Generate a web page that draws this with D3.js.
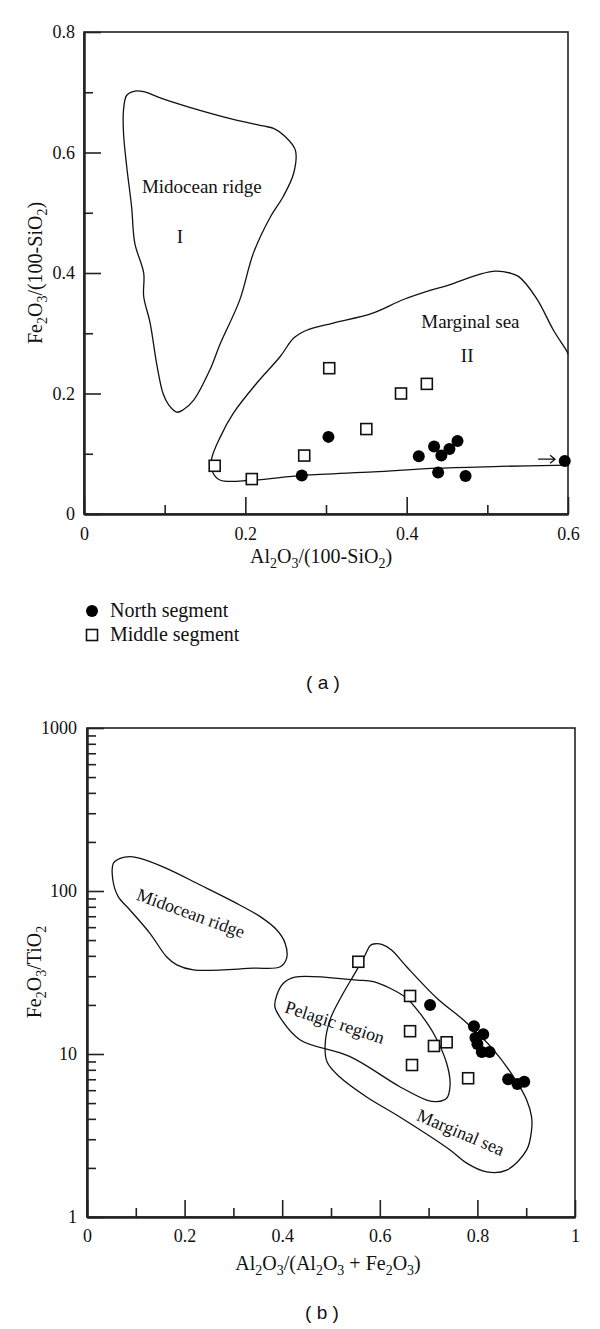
<!DOCTYPE html>
<html>
<head>
<meta charset="utf-8">
<title>Fe2O3 discrimination diagrams</title>
<style>
body { margin: 0; background: #fff; }
svg text { font-family: "Liberation Serif", "Times New Roman", serif; fill: #111; }
.cap { font-family: "Liberation Sans", Arial, sans-serif; }
.field { fill: none; stroke: #111; stroke-width: 1.3; stroke-linejoin: round; }
.frame { fill: none; stroke: #222; stroke-width: 1.6; }
.axis path.domain { stroke: #222; stroke-width: 2; }
.axis line { stroke: #222; stroke-width: 1.6; }
.axis text { font-size: 18px; font-family: "Liberation Serif", "Times New Roman", serif; fill: #111; }
</style>
</head>
<body>
<svg width="600" height="1329"></svg>
<script src="https://d3js.org/d3.v7.min.js"></script>
<script>

// ---------- panel (a): Al2O3/(100-SiO2) vs Fe2O3/(100-SiO2) ----------
var northA = [[0.270,0.064],[0.303,0.128],[0.415,0.096],[0.434,0.112],[0.443,0.097],
              [0.453,0.108],[0.463,0.121],[0.439,0.069],[0.473,0.063],[0.596,0.088]];
var middleA = [[0.162,0.080],[0.208,0.058],[0.273,0.097],[0.304,0.242],[0.350,0.141],
               [0.393,0.200],[0.425,0.216]];
// field I, midocean ridge (closed)
var ridgeA = [[0.049,0.671],[0.053,0.695],[0.063,0.702],[0.074,0.701],[0.098,0.689],[0.131,0.675],
              [0.185,0.655],[0.222,0.644],[0.235,0.640],[0.249,0.627],[0.262,0.604],[0.260,0.566],
              [0.247,0.527],[0.231,0.493],[0.210,0.433],[0.193,0.355],[0.169,0.283],[0.156,0.239],
              [0.136,0.189],[0.123,0.173],[0.115,0.169],[0.105,0.181],[0.098,0.200],[0.090,0.250],
              [0.082,0.317],[0.074,0.361],[0.074,0.400],[0.063,0.449],[0.059,0.510],[0.053,0.576],
              [0.049,0.632]];
// field II, marginal sea (open on the right frame)
var marginalA = [[0.600,0.265],[0.599,0.269],[0.582,0.305],[0.561,0.358],[0.539,0.394],[0.528,0.400],
                 [0.510,0.403],[0.491,0.398],[0.452,0.380],[0.431,0.372],[0.396,0.356],[0.357,0.333],
                 [0.309,0.317],[0.276,0.305],[0.260,0.292],[0.243,0.261],[0.214,0.217],[0.185,0.167],
                 [0.169,0.128],[0.158,0.090],[0.160,0.068],[0.169,0.056],[0.208,0.056],[0.271,0.064],
                 [0.359,0.070],[0.439,0.076],[0.516,0.079],[0.600,0.081]];
var arrowA = [[0.563,0.091],[0.584,0.091]];
var labelsA = [["Midocean ridge",0.146,0.533],["I",0.119,0.450],["Marginal sea",0.479,0.309],["II",0.475,0.253]];
var xTicksA = [0, 0.2, 0.4, 0.6];
var xMinorA = [0.1, 0.3, 0.5];
var yTicksA = [0, 0.2, 0.4, 0.6, 0.8];
var yMinorA = [0.1, 0.3, 0.5, 0.7];

// ---------- panel (b): Al2O3/(Al2O3+Fe2O3) vs Fe2O3/TiO2 ----------
var northB = [[0.703,20.0],[0.793,14.8],[0.812,13.2],[0.796,12.6],[0.800,11.5],[0.809,10.3],
              [0.825,10.3],[0.863,7.0],[0.882,6.55],[0.896,6.75]];
var middleB = [[0.556,36.8],[0.662,22.7],[0.662,13.8],[0.711,11.2],[0.737,11.8],[0.666,8.56],[0.781,7.1]];
var ridgeB = [[0.054,147.9],[0.068,158.7],[0.088,162.3],[0.109,158.7],[0.163,137.8],[0.232,108.9],
              [0.300,86.0],[0.355,69.6],[0.389,57.6],[0.406,47.8],[0.409,38.6],[0.396,34.3],
              [0.341,33.6],[0.218,32.8],[0.184,35.2],[0.163,39.5],[0.129,55.0],[0.088,76.5],
              [0.064,92.3],[0.053,116.8]];
var pelagicB = [[0.426,29.6],[0.553,28.4],[0.587,27.8],[0.621,25.3],[0.655,22.0],[0.682,17.8],
                [0.710,13.4],[0.737,8.77],[0.744,6.45],[0.737,5.35],[0.717,5.10],[0.696,5.22],
                [0.641,6.30],[0.539,9.63],[0.437,12.2],[0.399,16.2],[0.385,19.5],[0.389,23.0],
                [0.402,27.1]];
var marginalB = [[0.580,46.2],[0.587,47.3],[0.604,47.1],[0.624,43.5],[0.655,34.3],[0.717,22.0],
                 [0.771,16.2],[0.833,10.6],[0.881,6.73],[0.901,5.22],[0.911,4.11],[0.911,3.42],
                 [0.901,2.58],[0.860,1.94],[0.819,1.89],[0.778,2.14],[0.744,2.58],[0.641,4.11],
                 [0.573,5.45],[0.518,7.22],[0.492,8.93],[0.488,11.4],[0.498,16.2],[0.523,23.0],
                 [0.553,32.8],[0.570,40.5]];
var labelsB = [["Midocean ridge",0.213,73.3,20],["Pelagic region",0.508,15.7,18],["Marginal sea",0.766,3.32,23]];
var xTicksB = [0, 0.2, 0.4, 0.6, 0.8, 1];
var xMinorB = [0.1, 0.3, 0.5, 0.7, 0.9];
var yTicksB = [1, 10, 100, 1000];
var yMinorB = [2,3,4,5,6,7,8,9,20,30,40,50,60,70,80,90,200,300,400,500,600,700,800,900];

var svg = d3.select("svg");

function scatter(g, x, y, north, middle) {
  g.selectAll("rect.mid").data(middle).enter().append("rect")
    .attr("class", "mid")
    .attr("x", function(d) { return x(d[0]) - 5.5; })
    .attr("y", function(d) { return y(d[1]) - 5.5; })
    .attr("width", 11).attr("height", 11)
    .attr("fill", "#fff").attr("stroke", "#111").attr("stroke-width", 1.6);
  g.selectAll("circle.north").data(north).enter().append("circle")
    .attr("class", "north")
    .attr("cx", function(d) { return x(d[0]); })
    .attr("cy", function(d) { return y(d[1]); })
    .attr("r", 6).attr("fill", "#000");
}

function frameAndAxes(x, y, xt, xm, yt, ym, xfmt, yfmt, ypad, xpad) {
  var x0 = x.range()[0], x1 = x.range()[1], y0 = y.range()[0], y1 = y.range()[1];
  svg.append("rect").attr("class", "frame")
    .attr("x", x0).attr("y", y1).attr("width", x1 - x0).attr("height", y0 - y1);

  svg.append("g").attr("class", "axis").attr("transform", "translate(" + x0 + ",0)")
    .call(d3.axisLeft(y).tickValues(yt).tickSize(-17).tickSizeOuter(0).tickPadding(ypad).tickFormat(yfmt));
  svg.append("g").attr("class", "axis").attr("transform", "translate(" + x0 + ",0)")
    .call(d3.axisLeft(y).tickValues(ym).tickSize(-9).tickSizeOuter(0).tickFormat(""));

  svg.append("g").attr("class", "axis").attr("transform", "translate(0," + y0 + ")")
    .call(d3.axisBottom(x).tickValues(xt).tickSize(-17).tickSizeOuter(0).tickPadding(xpad).tickFormat(xfmt));
  svg.append("g").attr("class", "axis").attr("transform", "translate(0," + y0 + ")")
    .call(d3.axisBottom(x).tickValues(xm).tickSize(-9).tickSizeOuter(0).tickFormat(""));
}

// axis title with subscripts: parts = [[string, isSub], ...]
function axisTitle(parts, tx, ty, rot) {
  var t = svg.append("text")
    .attr("transform", "translate(" + tx + "," + ty + ")" + (rot ? " rotate(-90)" : ""))
    .attr("text-anchor", "middle").attr("font-size", 20);
  var prevSub = false;
  parts.forEach(function(p) {
    var s = t.append("tspan").text(p[0]);
    if (p[1]) s.attr("font-size", 14);
    if (p[1] && !prevSub) s.attr("dy", 5);
    if (!p[1] && prevSub) s.attr("dy", -5);
    prevSub = p[1];
  });
}

var fmt = function(d) { return d === 0 ? "0" : d3.format(".1f")(d); };

// ---------- panel (a) ----------
var xA = d3.scaleLinear().domain([0, 0.6]).range([84, 568]);
var yA = d3.scaleLinear().domain([0, 0.8]).range([514, 32]);

frameAndAxes(xA, yA, xTicksA, xMinorA, yTicksA, yMinorA, fmt, fmt, 9, 13);

var lineA = d3.line().x(function(d) { return xA(d[0]); }).y(function(d) { return yA(d[1]); });
svg.append("path").attr("class", "field").attr("d", lineA.curve(d3.curveCatmullRomClosed.alpha(0.5))(ridgeA));
svg.append("path").attr("class", "field").attr("d", lineA.curve(d3.curveCatmullRom.alpha(0.5))(marginalA));

// small arrow pointing at the outlying sample
var ax1 = xA(arrowA[0][0]), ax2 = xA(arrowA[1][0]), ay = yA(arrowA[0][1]);
svg.append("path").attr("class", "field").attr("stroke-width", 1.1)
  .attr("d", "M" + ax1 + "," + ay + "H" + ax2 + "M" + (ax2 - 5) + "," + (ay - 4) + "L" + ax2 + "," + ay + "L" + (ax2 - 5) + "," + (ay + 4));

svg.selectAll("text.labA").data(labelsA).enter().append("text")
  .attr("class", "labA")
  .attr("x", function(d) { return xA(d[1]); })
  .attr("y", function(d) { return yA(d[2]); })
  .attr("text-anchor", "middle").attr("font-size", 19)
  .text(function(d) { return d[0]; });

scatter(svg.append("g"), xA, yA, northA, middleA);

axisTitle([["Al",0],["2",1],["O",0],["3",1],["/(100-SiO",0],["2",1],[")",0]], 321, 563, false);
axisTitle([["Fe",0],["2",1],["O",0],["3",1],["/(100-SiO",0],["2",1],[")",0]], 42, 273, true);

// legend
var leg = svg.append("g");
leg.append("circle").attr("cx", 92).attr("cy", 611).attr("r", 6).attr("fill", "#000");
leg.append("rect").attr("x", 86.5).attr("y", 629.5).attr("width", 11).attr("height", 11)
  .attr("fill", "#fff").attr("stroke", "#111").attr("stroke-width", 1.6);
leg.append("text").attr("x", 110).attr("y", 617).attr("font-size", 20).text("North segment");
leg.append("text").attr("x", 110).attr("y", 641).attr("font-size", 20).text("Middle segment");

svg.append("text").attr("class", "cap").attr("x", 323).attr("y", 689)
  .attr("text-anchor", "middle").attr("font-size", 19).attr("xml:space", "preserve").text("( a )");

// ---------- panel (b) ----------
var xB = d3.scaleLinear().domain([0, 1]).range([87, 575]);
var yB = d3.scaleLog().domain([1, 1000]).range([1217, 728]);

frameAndAxes(xB, yB, xTicksB, xMinorB, yTicksB, yMinorB,
  function(d) { return d === 0 ? "0" : d === 1 ? "1" : d3.format(".1f")(d); },
  function(d) { return String(d); }, 10, 12);

var lineB = d3.line().x(function(d) { return xB(d[0]); }).y(function(d) { return yB(d[1]); })
  .curve(d3.curveCatmullRomClosed.alpha(0.5));
[ridgeB, pelagicB, marginalB].forEach(function(poly) {
  svg.append("path").attr("class", "field").attr("d", lineB(poly));
});

svg.selectAll("text.labB").data(labelsB).enter().append("text")
  .attr("class", "labB")
  .attr("transform", function(d) { return "translate(" + xB(d[1]) + "," + yB(d[2]) + ") rotate(" + d[3] + ")"; })
  .attr("text-anchor", "middle").attr("dy", "0.35em").attr("font-size", 18)
  .text(function(d) { return d[0]; });

scatter(svg.append("g"), xB, yB, northB, middleB);

axisTitle([["Al",0],["2",1],["O",0],["3",1],["/(Al",0],["2",1],["O",0],["3",1],[" + Fe",0],["2",1],["O",0],["3",1],[")",0]], 328, 1270, false);
axisTitle([["Fe",0],["2",1],["O",0],["3",1],["/TiO",0],["2",1]], 41, 972, true);

svg.append("text").attr("class", "cap").attr("x", 322).attr("y", 1319)
  .attr("text-anchor", "middle").attr("font-size", 19).attr("xml:space", "preserve").text("( b )");
</script>
</body>
</html>
